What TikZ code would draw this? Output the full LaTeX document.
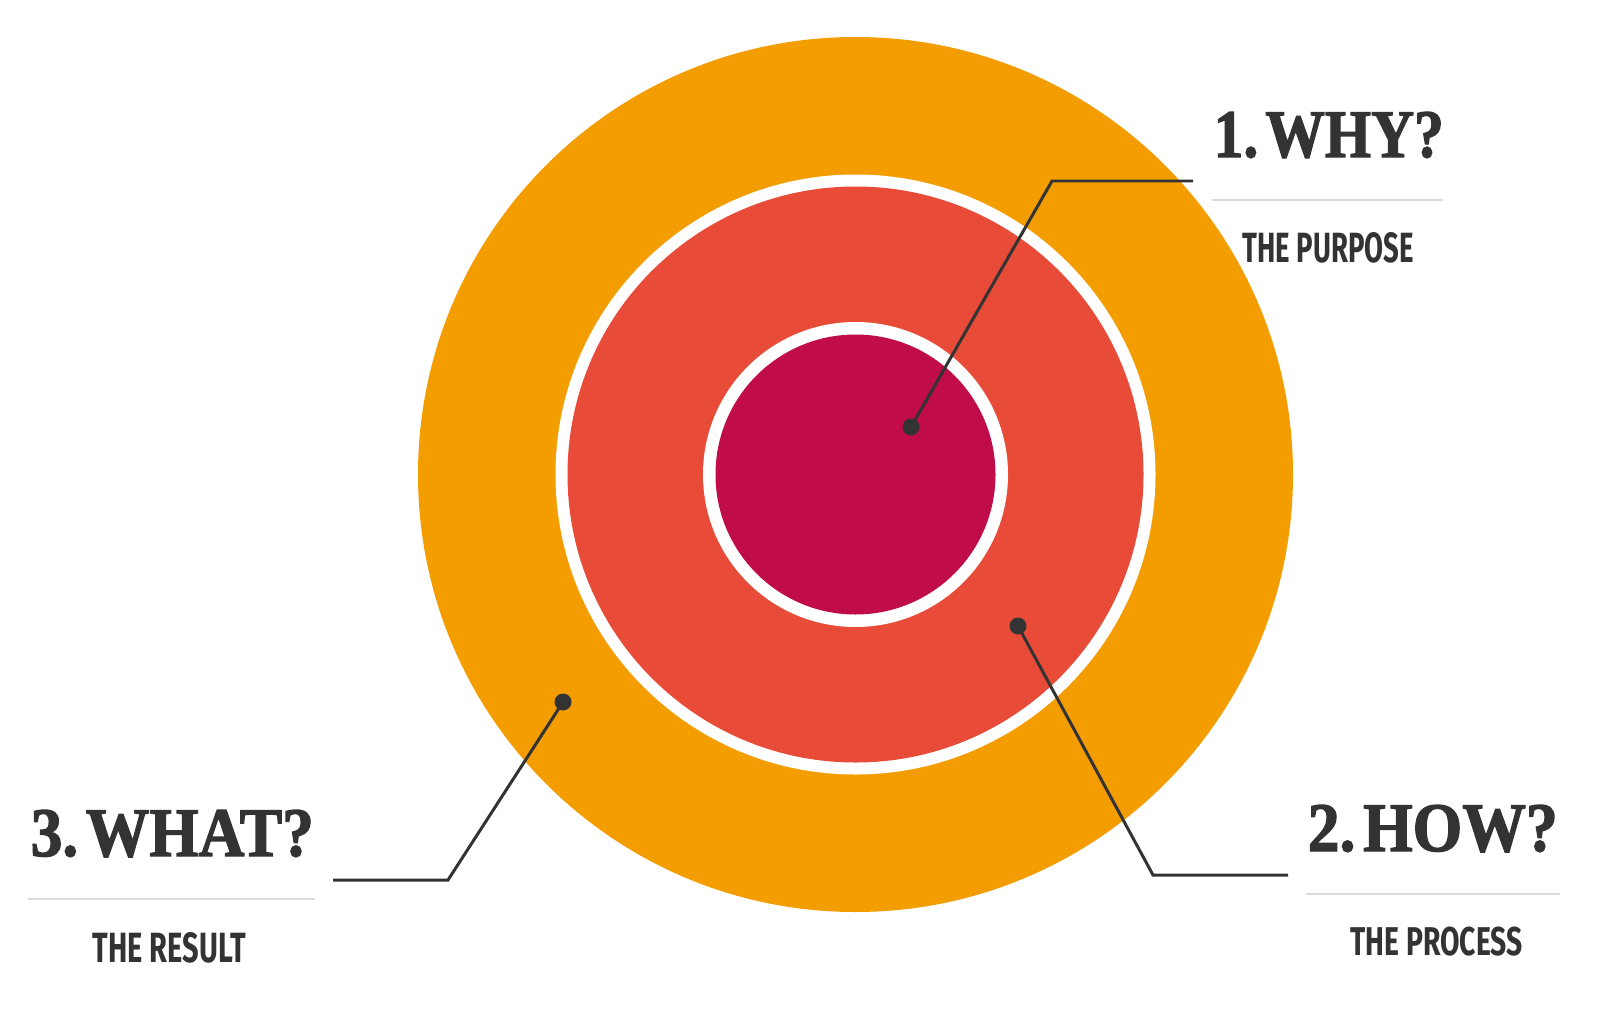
\documentclass[tikz,border=0pt]{standalone}
\usepackage{fontspec}
\newfontfamily\subsans{Fira Sans}
\newfontfamily\headfont[BoldFeatures={FakeBold=2}]{Liberation Serif}
\definecolor{cOrange}{HTML}{F39D00}
\definecolor{cRed}{HTML}{E84C38}
\definecolor{cMag}{HTML}{C00C48}
\definecolor{cInk}{HTML}{333333}
\definecolor{cRule}{HTML}{DCDCDC}
\tikzset{
  dotnode/.style={circle, fill=cInk, inner sep=0pt, minimum size=0.17cm},
  leader/.style={draw=cInk, line width=0.85pt},
  rulebar/.style={draw=cRule, line width=0.5pt},
  headtxt/.style={inner sep=0pt, anchor=base west, text=cInk},
  subtxt/.style={inner sep=0pt, anchor=base west, text=cInk}
}
\newcommand{\headtext}[3]{\resizebox{#1}{#2}{\headfont\bfseries #3}}
\newcommand{\subtext}[3]{\resizebox{#1}{#2}{\subsans\bfseries #3}}
\begin{document}
\begin{tikzpicture}[x=0.01cm,y=-0.01cm]
\useasboundingbox[fill=white] (0,0) rectangle (1600,1009);
% circles
\fill[cOrange] (855.5,474.5) circle (437.5);
\fill[white] (855.5,474.5) circle (300);
\fill[cRed] (855.5,474.5) circle (288);
\fill[white] (855.5,474.5) circle (152.5);
\fill[cMag] (855.5,474.5) circle (140);
% dots
\node[dotnode] (d1) at (911,427) {};
\node[dotnode] (d2) at (1018,626) {};
\node[dotnode] (d3) at (563,702) {};
\coordinate (e1) at (1052,181);
\coordinate (t1) at (1193,181);
\coordinate (e2) at (1153,875);
\coordinate (t2) at (1288,875);
\coordinate (e3) at (448,880);
\coordinate (t3) at (333,880);
\draw[leader] (d1.center) -- (e1) -- (t1);
\draw[leader] (d2.center) -- (e2) -- (t2);
\draw[leader] (d3.center) -- (e3) -- (t3);
% labels
\node[headtxt] (h1) at (1213,157) {\headtext{2.30cm}{0.45cm}{1.\hspace{0.12em}WHY?}};
\coordinate (r1a) at (1212,200);
\coordinate (r1b) at (1443,200);
\draw[rulebar] (r1a) -- (r1b);
\node[subtxt] (s1) at (1242,262) {\subtext{1.71cm}{0.30cm}{THE PURPOSE}};

\node[headtxt] (h2) at (1307,851) {\headtext{2.50cm}{0.46cm}{2.\hspace{0.12em}HOW?}};
\coordinate (r2a) at (1306,894);
\coordinate (r2b) at (1560,894);
\draw[rulebar] (r2a) -- (r2b);
\node[subtxt] (s2) at (1350,955) {\subtext{1.72cm}{0.285cm}{THE PROCESS}};

\node[headtxt] (h3) at (30,856) {\headtext{2.83cm}{0.46cm}{3.\hspace{0.12em}WHAT?}};
\coordinate (r3a) at (28,899);
\coordinate (r3b) at (315,899);
\draw[rulebar] (r3a) -- (r3b);
\node[subtxt] (s3) at (92,962) {\subtext{1.53cm}{0.30cm}{THE RESULT}};
\end{tikzpicture}
\end{document}
